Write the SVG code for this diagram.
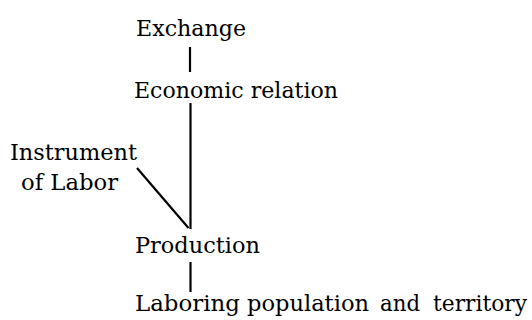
<svg xmlns="http://www.w3.org/2000/svg" width="532" height="320" viewBox="0 0 532 320">
<style>
text{font-family:"DejaVu Serif","Liberation Serif",serif;font-size:22px;fill:#000}
.c line{stroke:#000;stroke-width:2.2;stroke-linecap:butt}
</style>
<rect width="532" height="320" fill="#fff"/>
<g id="exchange"><text x="136" y="36" textLength="110" lengthAdjust="spacingAndGlyphs">Exchange</text></g>
<g id="economic-relation"><text x="134" y="98" textLength="204" lengthAdjust="spacingAndGlyphs">Economic relation</text></g>
<g id="instrument-of-labor"><text x="10" y="160" textLength="127" lengthAdjust="spacingAndGlyphs">Instrument</text><text x="21" y="190" textLength="97" lengthAdjust="spacingAndGlyphs">of Labor</text></g>
<g id="production"><text x="135" y="253" textLength="125" lengthAdjust="spacingAndGlyphs">Production</text></g>
<g id="laboring-population">
<text x="135" y="311" textLength="105" lengthAdjust="spacingAndGlyphs">Laboring</text>
<text x="247" y="311" textLength="122" lengthAdjust="spacingAndGlyphs">population</text>
<text x="380" y="311" textLength="40" lengthAdjust="spacingAndGlyphs">and</text>
<text x="433" y="311" textLength="94" lengthAdjust="spacingAndGlyphs">territory</text>
</g>
<g class="c" id="connectors">
<line x1="190" y1="47" x2="190" y2="72"/>
<line x1="190.5" y1="103" x2="190.5" y2="229"/>
<line x1="137" y1="168" x2="188.5" y2="228"/>
<line x1="190.5" y1="262" x2="190.5" y2="292"/>
</g>
</svg>
